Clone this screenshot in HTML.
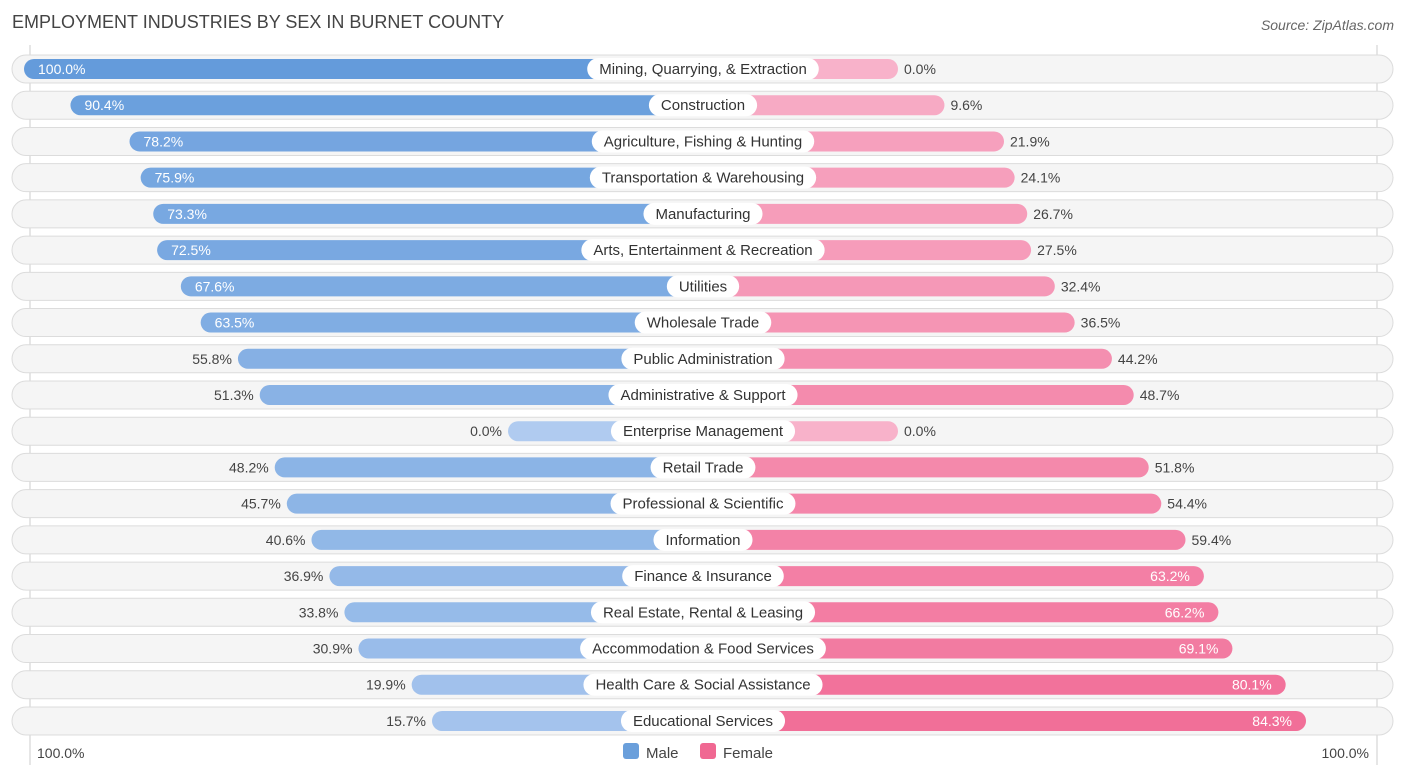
<!DOCTYPE html>
<html><head><meta charset="utf-8">
<style>
body{margin:0;background:#fff;font-family:"Liberation Sans",sans-serif;}
svg text{font-family:"Liberation Sans",sans-serif;}
</style></head>
<body>
<svg id="chart" width="1406" height="776" xmlns="http://www.w3.org/2000/svg">
<text x="12" y="28" font-size="18" fill="#444">EMPLOYMENT INDUSTRIES BY SEX IN BURNET COUNTY</text>
<text x="1394" y="30" font-size="14" fill="#666" font-style="italic" text-anchor="end">Source: ZipAtlas.com</text>
<line x1="30" y1="45" x2="30" y2="765" stroke="#ccc"/>
<line x1="1377" y1="45" x2="1377" y2="765" stroke="#ccc"/>
<g id="rows"></g>
<text x="37" y="758" font-size="14" fill="#444">100.0%</text>
<text x="1369" y="758" font-size="14" fill="#444" text-anchor="end">100.0%</text>
<g><rect x="623" y="743" width="16" height="16" rx="3" fill="#6a9fdb"/><text x="646" y="758" font-size="15" fill="#444">Male</text></g>
<g><rect x="700" y="743" width="16" height="16" rx="3" fill="#f06892"/><text x="723" y="758" font-size="15" fill="#444">Female</text></g>
</svg>
<script>
const categories=["Mining, Quarrying, & Extraction","Construction","Agriculture, Fishing & Hunting","Transportation & Warehousing","Manufacturing","Arts, Entertainment & Recreation","Utilities","Wholesale Trade","Public Administration","Administrative & Support","Enterprise Management","Retail Trade","Professional & Scientific","Information","Finance & Insurance","Real Estate, Rental & Leasing","Accommodation & Food Services","Health Care & Social Assistance","Educational Services"];
const maleValues=[100,90.4,78.2,75.9,73.3,72.5,67.6,63.5,55.8,51.3,0,48.2,45.7,40.6,36.9,33.8,30.9,19.9,15.7];
const femaleValues=[0,9.6,21.9,24.1,26.7,27.5,32.4,36.5,44.2,48.7,0,51.8,54.4,59.4,63.2,66.2,69.1,80.1,84.3];
const NS="http://www.w3.org/2000/svg";
const cx=703, base=195, k=4.84, y0=69, dy=36.22;
function len(v){return base+k*v;}
function rowY(i){return y0+i*dy;}
function mix(a,b,t){return a.map((c,j)=>Math.round(c+(b[j]-c)*t));}
function rgb(c){return `rgb(${c[0]},${c[1]},${c[2]})`;}
function el(tag,attrs){const e=document.createElementNS(NS,tag);for(const a in attrs)e.setAttribute(a,attrs[a]);return e;}
const g=document.getElementById('rows');
categories.forEach((cat,i)=>{
  const y=rowY(i);
  const row=el('g',{});
  
  
  const bg=el('rect',{x:12,y:y-14,width:1381,height:28,rx:14,fill:'#f5f5f5',stroke:'#dcdcdc'});
  
  
  row.appendChild(bg);
  const m=maleValues[i], f=femaleValues[i];
  const mc=rgb(mix([176,203,240],[100,155,219],m/100));
  const fc=rgb(mix([248,178,202],[240,98,143],f/100));
  const ml=len(m), fl=len(f);
  const mb=el('rect',{x:cx-ml,y:y-10,width:ml,height:20,rx:10,fill:mc});
  
  
  row.appendChild(mb);
  const fb=el('rect',{x:cx,y:y-10,width:fl,height:20,rx:10,fill:fc});
  
  
  row.appendChild(fb);
  const mt=el('text',{y:y+5,'font-size':14});
  if(m>=60){mt.setAttribute('x',cx-ml+14);mt.setAttribute('fill','#fff');}
  else{mt.setAttribute('x',cx-ml-6);mt.setAttribute('text-anchor','end');mt.setAttribute('fill','#444');}
  mt.textContent=m.toFixed(1)+'%';
  
  
  row.appendChild(mt);
  const ft=el('text',{y:y+5,'font-size':14});
  if(f>=60){ft.setAttribute('x',cx+fl-14);ft.setAttribute('text-anchor','end');ft.setAttribute('fill','#fff');}
  else{ft.setAttribute('x',cx+fl+6);ft.setAttribute('fill','#444');}
  ft.textContent=f.toFixed(1)+'%';
  
  
  row.appendChild(ft);
  const lbl=el('text',{x:cx,y:y+5,'font-size':15,'text-anchor':'middle',fill:'#333'});
  lbl.textContent=cat;
  
  
  row.appendChild(lbl);
  g.appendChild(row);
  const w=lbl.getComputedTextLength()+24;
  const pill=el('rect',{x:cx-w/2,y:y-11,width:w,height:22,rx:11,fill:'#fff'});
  
  
  row.insertBefore(pill,lbl);
});
</script>
</body></html>
